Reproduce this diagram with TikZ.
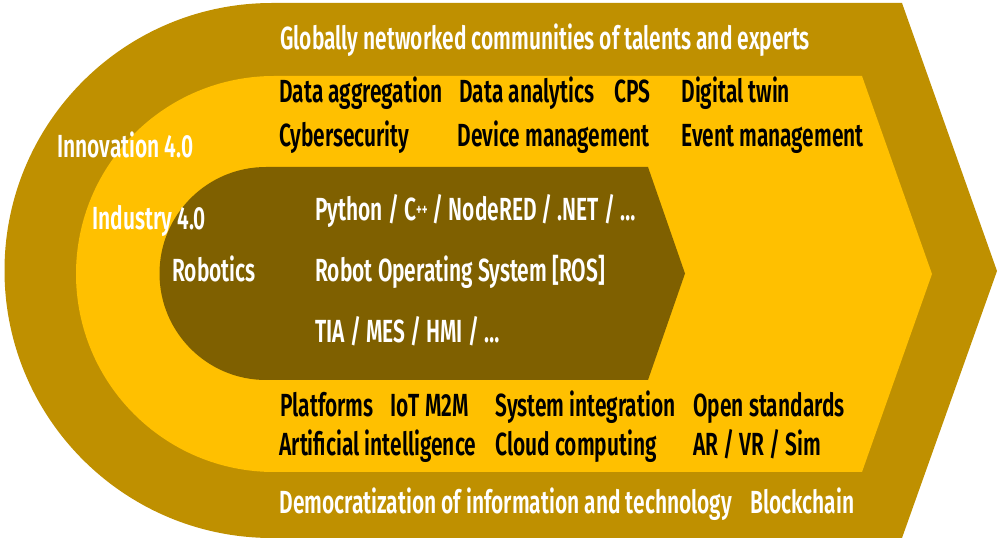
\documentclass[tikz,border=0pt]{standalone}
\usepackage{fontspec}
\setmainfont{Fira Sans SemiBold}[FakeStretch=0.655]
\definecolor{goldouter}{HTML}{BF9000}
\definecolor{goldmid}{HTML}{FFC000}
\definecolor{goldinner}{HTML}{7F6000}
\newcommand{\lblfont}{\fontsize{16}{18}\selectfont}
\newcommand{\cpp}{C\raisebox{0.35ex}{\fontsize{8.5}{8.5}\selectfont ++}}
\begin{document}
\begin{tikzpicture}[x=0.5pt,y=-0.5pt,
  lbl/.style={anchor=base west,inner sep=0pt,font=\lblfont},
  wlbl/.style={lbl,text=white},
  blbl/.style={lbl,text=black}]
\useasboundingbox (0,0) rectangle (998,545);
% outer band
\fill[goldouter] (272,3) -- (902,3) -- (997,271) -- (902,538) -- (272,538)
  arc[start angle=270,end angle=90,radius=133.75pt] -- cycle;
% middle band
\fill[goldmid] (274,76) -- (862,76) -- (932,274) -- (862,472) -- (274,472)
  arc[start angle=270,end angle=90,radius=99pt] -- cycle;
% inner core
\fill[goldinner] (266,167) -- (648,167) -- (685,273.5) -- (648,380) -- (266,380)
  arc[start angle=270,end angle=90,radius=53.25pt] -- cycle;

% outer band texts
\node[wlbl] (glob) at (280,50) {Globally networked communities of talents and experts};
\node[wlbl] (innov) at (57,158) {Innovation 4.0};
\node[wlbl] (demo) at (279,514) {Democratization of information and technology};
\node[wlbl] (block) at (750,514) {Blockchain};

% middle band texts
\node[blbl] (dagg) at (279,103) {Data aggregation};
\node[blbl] (dana) at (459,103) {Data analytics};
\node[blbl] (cps) at (614,103) {CPS};
\node[blbl] (dtwin) at (681,103) {Digital twin};
\node[blbl] (cyber) at (279,147) {Cybersecurity};
\node[blbl] (devm) at (457,147) {Device management};
\node[blbl] (evm) at (681,147) {Event management};
\node[wlbl] (indus) at (92,230) {Industry 4.0};
\node[blbl] (plat) at (280,417) {Platforms};
\node[blbl] (iot) at (390,417) {IoT M2M};
\node[blbl] (sysint) at (495,417) {System integration};
\node[blbl] (open) at (693,417) {Open standards};
\node[blbl] (ai) at (279,456) {Artificial intelligence};
\node[blbl] (cloud) at (495,456) {Cloud computing};
\node[blbl] (arvr) at (693,456) {AR / VR / Sim};

% inner core texts
\node[wlbl] (robo) at (172,282) {Robotics};
\node[wlbl] (py) at (315,221) {Python / \cpp{} / NodeRED / .NET / …};
\node[wlbl] (ros) at (315,282) {Robot Operating System [ROS]};
\node[wlbl] (tia) at (315,343) {TIA / MES / HMI / …};
\end{tikzpicture}
\end{document}
